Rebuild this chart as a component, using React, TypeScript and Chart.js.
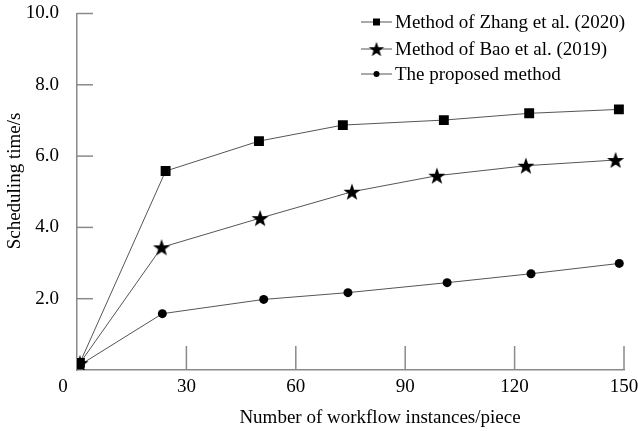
import React, { useEffect, useRef } from 'react';
import { Chart, registerables } from 'chart.js';

Chart.register(...registerables);

// ---- data ----
const seriesNames = ['Method of Zhang et al. (2020)', 'Method of Bao et al. (2019)', 'The proposed method'];
const xZhang = [0.8, 24.3, 49.9, 72.9, 100.6, 124, 148.6];
const yZhang = [0.2, 5.58, 6.42, 6.87, 7.01, 7.2, 7.31];
const xBao = [0.8, 23.2, 50.2, 75.4, 98.7, 123.1, 147.7];
const yBao = [0.19, 3.44, 4.26, 5.0, 5.45, 5.73, 5.89];
const xProposed = [0.8, 23.4, 51.2, 74.3, 101.5, 124.5, 148.7];
const yProposed = [0.14, 1.58, 1.98, 2.17, 2.45, 2.7, 2.99];
const xTickValues = [0, 30, 60, 90, 120, 150];
const yTickValues = [0, 2, 4, 6, 8, 10];
const xTitle = 'Number of workflow instances/piece';
const yTitle = 'Scheduling time/s';

const FONT = '"Liberation Serif", "DejaVu Serif", serif';
const AXIS_COLOR = '#8a8a8a';
const LINE_COLOR = '#555555';

function makeStar(R: number, r: number): HTMLCanvasElement {
  const size = Math.ceil(2 * R) + 2;
  const c = document.createElement('canvas');
  c.width = size;
  c.height = size;
  const ctx = c.getContext('2d')!;
  const cx = size / 2;
  const cy = size / 2 + R * 0.09;
  ctx.beginPath();
  for (let i = 0; i < 10; i++) {
    const rad = i % 2 === 0 ? R : r;
    const a = -Math.PI / 2 + (i * Math.PI) / 5;
    const px = cx + rad * Math.cos(a);
    const py = cy + rad * Math.sin(a);
    if (i === 0) ctx.moveTo(px, py);
    else ctx.lineTo(px, py);
  }
  ctx.closePath();
  ctx.fillStyle = '#000';
  ctx.fill();
  return c;
}

function zip(xs: number[], ys: number[]) {
  return xs.map((x, i) => ({ x, y: ys[i] }));
}

export default function App() {
  const ref = useRef<HTMLCanvasElement | null>(null);

  useEffect(() => {
    document.body.style.margin = '0';
    document.body.style.overflow = 'hidden';
    const canvas = ref.current;
    if (!canvas) return;

    const starBig = makeStar(9, 3.6);
    const starLegend = makeStar(8, 3.2);

    const customPlugin = {
      id: 'customDecor',
      afterDraw(chart: any) {
        const ctx = chart.ctx as CanvasRenderingContext2D;
        const xs = chart.scales.x;
        const ys = chart.scales.y;
        const area = chart.chartArea;
        ctx.save();
        // inward tick marks
        ctx.strokeStyle = AXIS_COLOR;
        ctx.lineWidth = 1.5;
        yTickValues.forEach((v) => {
          if (v === 0) return;
          const py = ys.getPixelForValue(v);
          ctx.beginPath();
          ctx.moveTo(area.left, py);
          ctx.lineTo(area.left + 16, py);
          ctx.stroke();
        });
        xTickValues.forEach((v) => {
          if (v === 0) return;
          const px = xs.getPixelForValue(v);
          ctx.beginPath();
          ctx.moveTo(px, area.bottom);
          ctx.lineTo(px, area.bottom - 24);
          ctx.stroke();
        });
        // origin label
        ctx.fillStyle = '#000';
        ctx.font = `19px ${FONT}`;
        ctx.textAlign = 'center';
        ctx.textBaseline = 'middle';
        ctx.fillText(String(xTickValues[0]), area.left - 14, area.bottom + 17);
        // axis titles
        ctx.fillText(xTitle, 380, 418);
        ctx.save();
        ctx.translate(15.5, 181);
        ctx.rotate(-Math.PI / 2);
        ctx.fillText(yTitle, 0, 0);
        ctx.restore();
        // legend
        const rows = [22, 49, 74];
        chart.data.datasets.forEach((ds: any, i: number) => {
          const y = rows[i];
          ctx.strokeStyle = LINE_COLOR;
          ctx.lineWidth = 1;
          ctx.beginPath();
          ctx.moveTo(361, y);
          ctx.lineTo(392, y);
          ctx.stroke();
          ctx.fillStyle = '#000';
          const mx = 376.5;
          if (i === 0) {
            ctx.fillRect(mx - 3.5, y - 3.5, 7, 7);
          } else if (i === 1) {
            ctx.drawImage(starLegend, mx - starLegend.width / 2, y - starLegend.height / 2);
          } else {
            ctx.beginPath();
            ctx.arc(mx, y, 3, 0, Math.PI * 2);
            ctx.fill();
          }
          ctx.textAlign = 'left';
          ctx.textBaseline = 'middle';
          ctx.font = `19px ${FONT}`;
          ctx.fillText(ds.label, 395, y + 1);
        });
        ctx.restore();
      },
    };

    const chart = new Chart(canvas, {
      type: 'line',
      data: {
        datasets: [
          {
            label: seriesNames[0],
            data: zip(xZhang, yZhang),
            borderColor: LINE_COLOR,
            borderWidth: 1,
            pointStyle: 'rect',
            pointRadius: 7,
            pointBackgroundColor: '#000',
            pointBorderColor: '#000',
            pointBorderWidth: 0,
            tension: 0,
            fill: false,
          },
          {
            label: seriesNames[1],
            data: zip(xBao, yBao),
            borderColor: LINE_COLOR,
            borderWidth: 1,
            pointStyle: starBig as any,
            pointRadius: 9,
            pointBackgroundColor: '#000',
            tension: 0,
            fill: false,
          },
          {
            label: seriesNames[2],
            data: zip(xProposed, yProposed),
            borderColor: LINE_COLOR,
            borderWidth: 1,
            pointStyle: 'circle',
            pointRadius: 4.5,
            pointBackgroundColor: '#000',
            pointBorderColor: '#000',
            pointBorderWidth: 0,
            tension: 0,
            fill: false,
          },
        ],
      },
      options: {
        animation: false,
        responsive: true,
        maintainAspectRatio: false,
        layout: { padding: { top: 13.5, right: 14, left: 0, bottom: 0 } },
        plugins: {
          legend: { display: false },
          tooltip: { enabled: false },
        },
        scales: {
          x: {
            type: 'linear',
            min: xTickValues[0],
            max: xTickValues[xTickValues.length - 1],
            afterBuildTicks: (scale: any) => {
              scale.ticks = xTickValues.map((v) => ({ value: v }));
            },
            ticks: {
              color: '#000',
              font: { family: FONT, size: 19 },
              padding: -2,
              maxRotation: 0,
              autoSkip: false,
              callback: (v: any) => (v === 0 ? '' : String(v)),
            },
            grid: { display: false },
            border: { display: true, color: AXIS_COLOR, width: 1.5 },
            afterFit: (scale: any) => {
              scale.height = 61;
            },
          },
          y: {
            min: yTickValues[0],
            max: yTickValues[yTickValues.length - 1],
            afterBuildTicks: (scale: any) => {
              scale.ticks = yTickValues.map((v) => ({ value: v }));
            },
            ticks: {
              color: '#000',
              font: { family: FONT, size: 19, lineHeight: 0.35 },
              padding: 10,
              autoSkip: false,
              callback: (v: any) => (v === 0 ? '' : Number(v).toFixed(1)),
            },
            grid: { display: false },
            border: { display: true, color: AXIS_COLOR, width: 1.5 },
            afterFit: (scale: any) => {
              scale.width = 77;
            },
          },
        },
      },
      plugins: [customPlugin],
    });

    return () => {
      chart.destroy();
    };
  }, []);

  return (
    <div style={{ position: 'relative', width: '638px', height: '431px' }}>
      <canvas ref={ref} />
    </div>
  );
}
